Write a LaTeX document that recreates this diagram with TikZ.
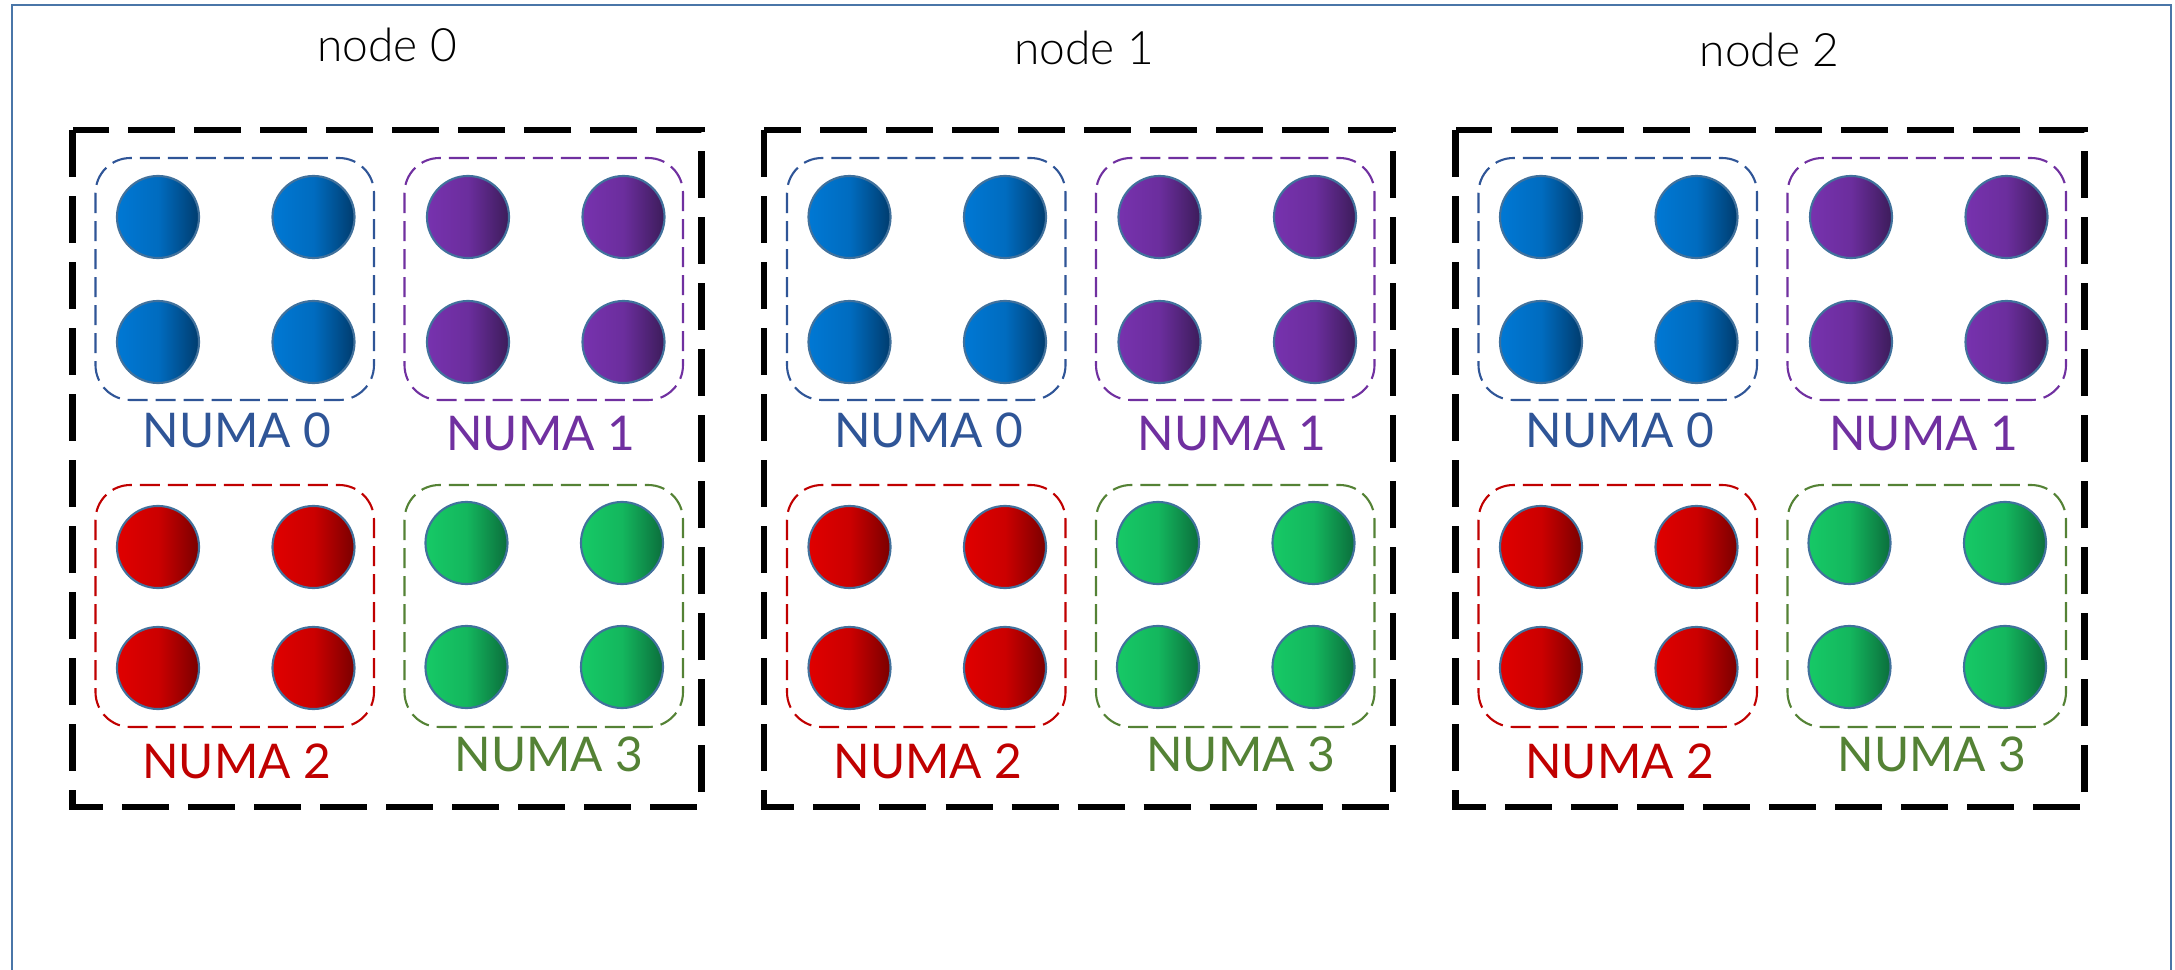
\documentclass[tikz,border=0pt]{standalone}
\usepackage{fontspec}
\setmainfont{Lato}[UprightFont=* Light]
\newfontfamily\numafont{Lato}
\usepackage{tikz}
\usetikzlibrary{positioning,calc}

\definecolor{frame}{HTML}{4A76A8}
\definecolor{edge}{HTML}{41719C}
\definecolor{numablue}{HTML}{2F5597}
\definecolor{numapurple}{HTML}{7030A0}
\definecolor{numared}{HTML}{C00000}
\definecolor{numagreen}{HTML}{548235}
\definecolor{blueL}{HTML}{0078D4}
\definecolor{blueR}{HTML}{003C6E}
\definecolor{purpleL}{HTML}{7732AE}
\definecolor{purpleR}{HTML}{3C1C5A}
\definecolor{redL}{HTML}{E00000}
\definecolor{redR}{HTML}{7A0000}
\definecolor{greenL}{HTML}{16C966}
\definecolor{greenR}{HTML}{0B6E3C}

\tikzstyle{machine}=[draw,line width=1.85pt,dash pattern=on 0.47cm off 0.19cm]
\tikzstyle{numa}=[line width=0.6pt,dash pattern=on 0.2cm off 0.08cm,rounded corners=0.35cm]
\tikzstyle{core}=[draw=edge,circle,line width=0.6pt,minimum size=0.82cm,inner sep=0pt]
\tikzstyle{title}=[anchor=base,font=\fontsize{13.1}{15}\selectfont]
\tikzstyle{numalabel}=[anchor=base,font=\numafont\fontsize{13.6}{16}\selectfont]

\begin{document}
\begin{tikzpicture}[x=0.01cm,y=-0.01cm]
  \useasboundingbox (0,0) rectangle (2175,970);
  \draw[frame,line width=0.6pt] (12,1100) -- (12,5) -- (2171,5) -- (2171,1100);

  \foreach \n/\tx/\base in {0/314.5/62,1/320/65,2/314/67} {
    \begin{scope}[shift={(72.5+691.5*\n,0)}]
      \node[title] (name\n) at (\tx,\base) {node \n};
      \draw[machine] (0,130) rectangle (629,807);
      % one dashed group per NUMA domain: box, label, four cores
      \foreach \g/\bx/\by/\cx/\cy/\dy/\col/\lx/\ly in {
          0/23/158/85.5/217/125/blue/164.5/447,
          1/332/158/395.5/217/125/purple/468/450,
          2/23/485/85.5/547/121/red/164/778,
          3/332/485/394/543/124/green/476.5/771} {
        \draw[numa,numa\col] (\bx,\by) rectangle ++(278.5,242);
        \node[numalabel,text=numa\col] (label\n-\g) at (\lx,\ly) {NUMA \g};
        \foreach \i in {0,1} {
          \foreach \j in {0,1} {
            \node[core,left color=\col L,right color=\col R,middle color=\col L!80!\col R]
              (core\n-\g-\i\j) at (\cx+155.5*\i,\cy+\dy*\j) {};
          }
        }
      }
    \end{scope}
  }
\end{tikzpicture}
\end{document}
